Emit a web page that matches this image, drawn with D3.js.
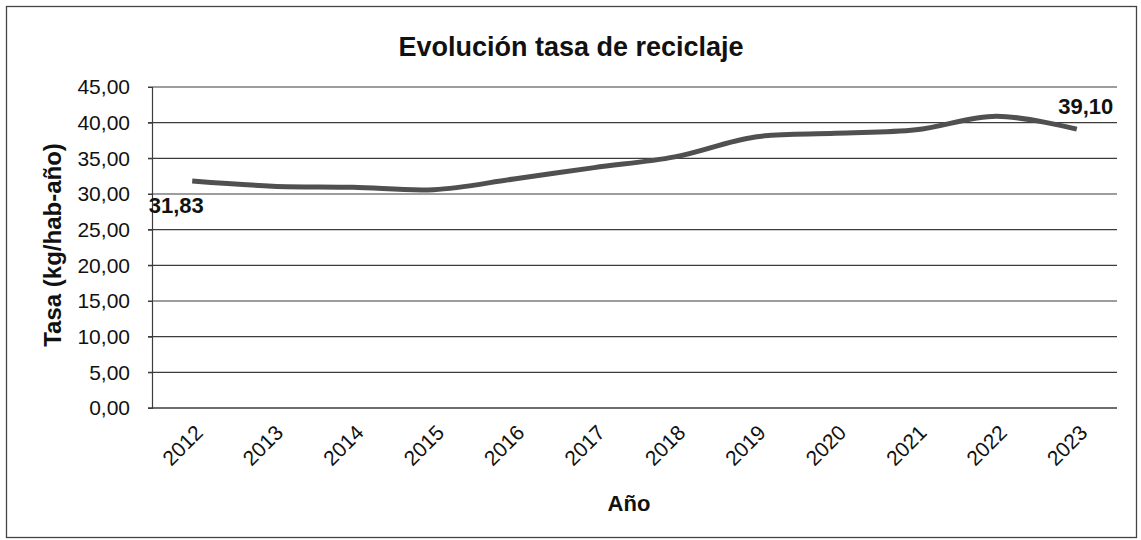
<!DOCTYPE html>
<html><head><meta charset="utf-8">
<script src="https://cdn.jsdelivr.net/npm/d3@7"></script>
<style>html,body{margin:0;padding:0;background:#fff;}svg{display:block;font-family:Arial,"Liberation Sans",sans-serif;}</style>
</head><body>
<svg id="c" width="1141" height="540"></svg>
<script>
const years = ["2012","2013","2014","2015","2016","2017","2018","2019","2020","2021","2022","2023"];
const tasa = [31.83,31.1,30.95,30.6,32.1,33.7,35.2,38.0,38.5,39.0,40.9,39.1];
const yTicks = [0,5,10,15,20,25,30,35,40,45];
const title = "Evolución tasa de reciclaje";
const yTitle = "Tasa (kg/hab-año)";
const xTitle = "Año";
const labelIdx = [0, 11];

const svg = d3.select("#c");
const m={l:152,r:1117,t:87,b:408};
svg.append("rect").attr("x",6.5).attr("y",6.5).attr("width",1130).attr("height",531)
  .attr("fill","#fff").attr("stroke","#444").attr("stroke-width",1.3);

const x=d3.scaleBand().domain(years).range([m.l,m.r]).padding(0);
const y=d3.scaleLinear().domain([0,45]).range([m.b,m.t]);
const fmt=v=>d3.format(".2f")(v).replace(".",",");

// gridlines
svg.append("g").selectAll("line").data(yTicks.filter(d=>d>0)).join("line")
  .attr("x1",m.l-4).attr("x2",m.r).attr("y1",d=>y(d)).attr("y2",d=>y(d))
  .attr("stroke","#3c3c3c").attr("stroke-width",1.2);

// y axis
const ya=svg.append("g").attr("transform",`translate(${m.l},0)`)
  .call(d3.axisLeft(y).tickValues(yTicks).tickFormat(fmt).tickSize(4).tickPadding(18));
ya.select(".domain").attr("stroke","#3c3c3c").attr("stroke-width",1.2);
ya.selectAll(".tick line").attr("stroke","#3c3c3c");
ya.selectAll("text").attr("font-size",21).attr("fill","#111").attr("font-family","Arial,'Liberation Sans',sans-serif");

// x axis
const xa=svg.append("g").attr("transform",`translate(0,${m.b})`)
  .call(d3.axisBottom(x).tickSize(0).tickPadding(0));
xa.select(".domain").attr("stroke","#3c3c3c").attr("stroke-width",1.5).attr("d",`M${m.l-4},0H${m.r}`);
xa.selectAll("text").attr("font-size",21).attr("fill","#111")
  .attr("font-family","Arial,'Liberation Sans',sans-serif")
  .attr("text-anchor","end").attr("dy",null)
  .attr("transform","translate(12,26) rotate(-45)");

// line
const line=d3.line().x((d,i)=>x(years[i])+x.bandwidth()/2).y(d=>y(d)).curve(d3.curveCatmullRom.alpha(0.5));
svg.append("path").datum(tasa).attr("d",line).attr("fill","none")
  .attr("stroke","#505050").attr("stroke-width",5).attr("stroke-linecap","butt");

// data labels
svg.append("text").attr("x",x(years[labelIdx[0]])+x.bandwidth()/2-16).attr("y",y(tasa[labelIdx[0]])+16)
  .attr("text-anchor","middle").attr("dominant-baseline","hanging").attr("font-size",22).attr("font-weight","bold").attr("fill","#111")
  .text(fmt(tasa[labelIdx[0]]));
svg.append("text").attr("x",x(years[labelIdx[1]])+x.bandwidth()/2+9).attr("y",y(tasa[labelIdx[1]])-15)
  .attr("text-anchor","middle").attr("font-size",22).attr("font-weight","bold").attr("fill","#111")
  .text(fmt(tasa[labelIdx[1]]));

// titles
svg.append("text").attr("x",571).attr("y",56).attr("text-anchor","middle")
  .attr("font-size",27).attr("font-weight","bold").attr("fill","#111").text(title);
svg.append("text").attr("transform",`translate(61,245) rotate(-90)`).attr("text-anchor","middle")
  .attr("font-size",24).attr("font-weight","bold").attr("fill","#111").text(yTitle);
svg.append("text").attr("x",629).attr("y",511).attr("text-anchor","middle")
  .attr("font-size",22).attr("font-weight","bold").attr("fill","#111").text(xTitle);
</script>
</body></html>
